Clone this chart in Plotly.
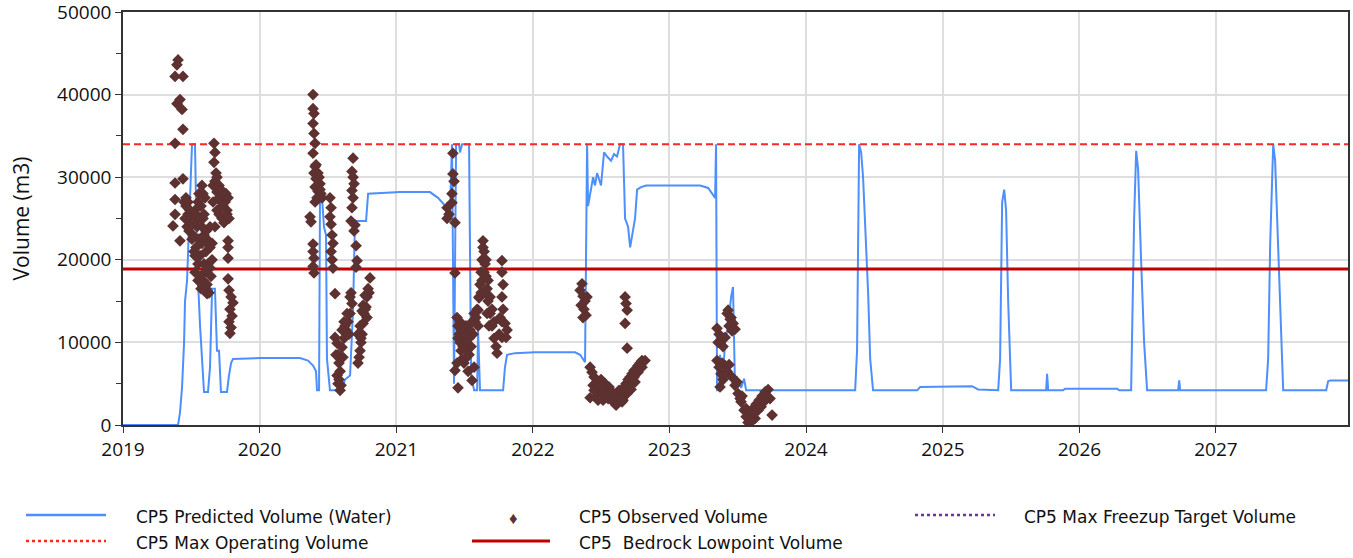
import pandas as pd
import plotly.graph_objects as go

# ---------------- DATA ----------------
# Predicted volume (decimal year, m3)
pred_year = [
    2019.000, 2019.403, 2019.417, 2019.432, 2019.447, 2019.454, 2019.469, 2019.490, 2019.505, 2019.527,
    2019.542, 2019.564, 2019.593, 2019.622, 2019.637, 2019.652, 2019.673, 2019.688, 2019.703, 2019.717,
    2019.761, 2019.776, 2019.791, 2019.805, 2020.003, 2020.296, 2020.354, 2020.391, 2020.413, 2020.420,
    2020.435, 2020.442, 2020.457, 2020.471, 2020.486, 2020.493, 2020.515, 2020.596, 2020.625, 2020.662,
    2020.684, 2020.698, 2020.779, 2020.794, 2021.028, 2021.247, 2021.306, 2021.350, 2021.372, 2021.394,
    2021.408, 2021.423, 2021.438, 2021.460, 2021.467, 2021.482, 2021.533, 2021.548, 2021.570, 2021.592,
    2021.599, 2021.613, 2021.782, 2021.796, 2021.811, 2021.870, 2022.016, 2022.309, 2022.346, 2022.382,
    2022.397, 2022.404, 2022.419, 2022.441, 2022.455, 2022.470, 2022.499, 2022.521, 2022.543, 2022.572,
    2022.594, 2022.616, 2022.638, 2022.660, 2022.675, 2022.697, 2022.712, 2022.726, 2022.748, 2022.763,
    2022.792, 2022.829, 2023.224, 2023.283, 2023.319, 2023.334, 2023.341, 2023.348, 2023.363, 2023.370,
    2023.385, 2023.407, 2023.429, 2023.451, 2023.465, 2023.480, 2023.509, 2023.524, 2023.546, 2023.561,
    2024.359, 2024.373, 2024.388, 2024.403, 2024.417, 2024.439, 2024.454, 2024.469, 2024.490, 2024.813,
    2024.835, 2025.215, 2025.259, 2025.406, 2025.420, 2025.435, 2025.450, 2025.464, 2025.479, 2025.501,
    2025.757, 2025.764, 2025.772, 2025.881, 2025.896, 2026.277, 2026.291, 2026.379, 2026.401, 2026.416,
    2026.430, 2026.452, 2026.474, 2026.496, 2026.723, 2026.731, 2026.738, 2027.367, 2027.382, 2027.397,
    2027.419, 2027.433, 2027.455, 2027.477, 2027.492, 2027.807, 2027.821, 2027.836, 2027.968,
]
pred_volume = [
    0, 0, 1500, 4500, 10000, 15000, 17500, 28000, 34000, 34000,
    20000, 12000, 4000, 4000, 7000, 16500, 16500, 9000, 9000, 4000,
    4000, 6000, 7500, 8000, 8100, 8100, 7800, 7200, 6500, 4200,
    4200, 28000, 27500, 24000, 23000, 8000, 4200, 4200, 5500, 6000,
    14000, 24700, 24700, 28000, 28200, 28200, 27500, 26700, 25500, 26000,
    34000, 5000, 34000, 34000, 33000, 34000, 34000, 6000, 4200, 4200,
    11500, 4200, 4200, 7000, 8500, 8700, 8800, 8800, 8500, 7600,
    34000, 26500, 28000, 30000, 29000, 30500, 29000, 33000, 32500, 32000,
    32800, 32500, 34000, 34000, 25000, 24000, 21500, 23000, 25000, 28500,
    28800, 29000, 29000, 28700, 27800, 27500, 34000, 4200, 4200, 8500,
    4200, 10000, 12000, 15500, 16700, 4200, 5500, 4500, 5600, 4200,
    4200, 9000, 34000, 33000, 30000, 22000, 16000, 8000, 4200, 4200,
    4600, 4700, 4300, 4200, 8000, 27000, 28500, 26000, 15000, 4200,
    4200, 6200, 4200, 4200, 4400, 4400, 4200, 4200, 25000, 33200,
    31000, 20000, 10000, 4200, 4200, 5400, 4200, 4200, 8000, 22000,
    34000, 32000, 22000, 12000, 4200, 4200, 5300, 5400, 5400,
]

# Observed volume (decimal year, m3)
obs_year = [
    # 2019
    2019.403, 2019.395, 2019.381, 2019.439, 2019.417, 2019.395, 2019.432, 2019.439, 2019.381, 2019.381,
    2019.439, 2019.381, 2019.381, 2019.366, 2019.417, 2019.447, 2019.461, 2019.476, 2019.490, 2019.505,
    2019.454, 2019.469, 2019.483, 2019.498, 2019.512, 2019.527, 2019.542, 2019.556, 2019.534, 2019.564,
    2019.578, 2019.593, 2019.608, 2019.622, 2019.600, 2019.586, 2019.571, 2019.615, 2019.637, 2019.652,
    2019.520, 2019.549, 2019.527, 2019.556, 2019.571, 2019.586, 2019.600, 2019.666, 2019.673, 2019.666,
    2019.681, 2019.673, 2019.659, 2019.688, 2019.703, 2019.717, 2019.732, 2019.688, 2019.703, 2019.725,
    2019.739, 2019.754, 2019.769, 2019.761, 2019.776, 2019.659, 2019.673, 2019.769, 2019.769, 2019.769,
    2019.769, 2019.776, 2019.791, 2019.805, 2019.783, 2019.798, 2019.776, 2019.791, 2019.783, 2019.652,
    2019.637, 2019.578, 2019.586, 2019.615, 2019.630, 2019.644, 2019.608, 2019.615,
    2019.461, 2019.476, 2019.490, 2019.505, 2019.520, 2019.534, 2019.549, 2019.564, 2019.578, 2019.593,
    2019.608, 2019.622, 2019.637, 2019.527, 2019.549, 2019.564, 2019.593, 2019.688, 2019.703, 2019.717,
    2019.732, 2019.747, 2019.761, 2019.725,
    # 2020
    2020.391, 2020.391, 2020.398, 2020.391, 2020.398, 2020.406, 2020.391, 2020.406, 2020.398, 2020.413,
    2020.420, 2020.427, 2020.406, 2020.420, 2020.435, 2020.442, 2020.449, 2020.457, 2020.369, 2020.376,
    2020.391, 2020.391, 2020.398, 2020.391, 2020.398, 2020.515, 2020.523, 2020.515, 2020.523, 2020.523,
    2020.530, 2020.537, 2020.552, 2020.552, 2020.567, 2020.574, 2020.581, 2020.589, 2020.581, 2020.596,
    2020.589, 2020.603, 2020.618, 2020.632, 2020.647, 2020.662, 2020.676, 2020.625, 2020.654, 2020.610,
    2020.684, 2020.676, 2020.684, 2020.691, 2020.676, 2020.684, 2020.669, 2020.691, 2020.698, 2020.706,
    2020.713, 2020.706, 2020.669, 2020.676, 2020.808, 2020.794, 2020.786, 2020.779, 2020.764, 2020.757,
    2020.750, 2020.742, 2020.735, 2020.728, 2020.720, 2020.772, 2020.801, 2020.750, 2020.735,
    2020.413, 2020.427, 2020.442, 2020.406, 2020.530, 2020.537, 2020.559, 2020.567, 2020.574, 2020.603,
    2020.618, 2020.640, 2020.662, 2020.757, 2020.772, 2020.786, 2020.720, 2020.742,
    # 2021
    2021.415, 2021.415, 2021.423, 2021.408, 2021.408, 2021.372, 2021.386, 2021.372, 2021.430, 2021.430,
    2021.445, 2021.452, 2021.460, 2021.467, 2021.474, 2021.482, 2021.445, 2021.430, 2021.452, 2021.467,
    2021.489, 2021.504, 2021.518, 2021.533, 2021.548, 2021.562, 2021.577, 2021.592, 2021.606, 2021.511,
    2021.540, 2021.496, 2021.526, 2021.555, 2021.570, 2021.599, 2021.606, 2021.613, 2021.621, 2021.628,
    2021.635, 2021.635, 2021.643, 2021.650, 2021.657, 2021.665, 2021.672, 2021.687, 2021.701, 2021.716,
    2021.731, 2021.738, 2021.643, 2021.650, 2021.665, 2021.679, 2021.774, 2021.774, 2021.782, 2021.774,
    2021.782, 2021.774, 2021.774, 2021.796, 2021.811, 2021.804, 2021.760, 2021.753,
    2021.452, 2021.474, 2021.489, 2021.504, 2021.518, 2021.533, 2021.555, 2021.570, 2021.584, 2021.599,
    2021.621, 2021.628, 2021.657, 2021.672, 2021.687, 2021.701, 2021.716,
    # 2022
    2022.360, 2022.346, 2022.367, 2022.382, 2022.353, 2022.374, 2022.389, 2022.367, 2022.396, 2022.675,
    2022.682, 2022.690, 2022.675, 2022.690, 2022.419, 2022.433, 2022.448, 2022.463, 2022.477, 2022.492,
    2022.507, 2022.521, 2022.536, 2022.551, 2022.565, 2022.580, 2022.594, 2022.609, 2022.624, 2022.638,
    2022.653, 2022.668, 2022.682, 2022.697, 2022.712, 2022.726, 2022.741, 2022.755, 2022.770, 2022.785,
    2022.799, 2022.821, 2022.419, 2022.441, 2022.470, 2022.499, 2022.529, 2022.558, 2022.580, 2022.631,
    2022.660, 2022.690, 2022.719, 2022.748, 2022.616, 2022.514,
    2022.448, 2022.477, 2022.507, 2022.536, 2022.565, 2022.594, 2022.653, 2022.682, 2022.712, 2022.741,
    2022.770, 2022.799,
    # 2023
    2023.429, 2023.451, 2023.466, 2023.480, 2023.436, 2023.458, 2023.348, 2023.363, 2023.377, 2023.392,
    2023.407, 2023.356, 2023.348, 2023.363, 2023.377, 2023.392, 2023.370, 2023.407, 2023.422, 2023.436,
    2023.458, 2023.480, 2023.502, 2023.524, 2023.546, 2023.561, 2023.575, 2023.590, 2023.495, 2023.531,
    2023.590, 2023.612, 2023.634, 2023.656, 2023.678, 2023.700, 2023.722, 2023.736, 2023.751, 2023.627,
    2023.649, 2023.671, 2023.692, 2023.605,
    2023.422, 2023.444, 2023.400, 2023.385, 2023.517, 2023.561, 2023.583, 2023.620, 2023.663, 2023.707,
]
obs_volume = [
    # 2019
    44200, 43600, 42200, 42200, 39400, 38900, 38200, 35800, 34100, 29300,
    29800, 27300, 25500, 24100, 22300, 27000, 26500, 27000, 26000, 25500,
    25000, 24000, 23500, 24500, 23000, 26000, 24000, 22500, 21500, 20500,
    22000, 23000, 21000, 19500, 18500, 17500, 16500, 22500, 21500, 20000,
    21000, 19500, 20500, 28000, 26500, 25000, 27500, 34100, 33000, 31800,
    30500, 29500, 29000, 28200, 27500, 27000, 26500, 26000, 25500, 25000,
    24500, 28000, 27500, 26000, 25000, 27000, 24000, 22300, 21500, 20200,
    17700, 16300, 15500, 14800, 14000, 13200, 12500, 11800, 11100, 22000,
    24000, 29000, 28000, 17000, 16000, 18000, 16500, 15900,
    27500, 25500, 24000, 22500, 24500, 25500, 27000, 25000, 24000, 25500,
    23500, 22000, 19000, 18500, 17500, 18000, 19500, 30000, 29000, 28500,
    28000, 27000, 25500, 26500,
    # 2020
    40000, 38300, 37700, 36500, 35300, 34100, 32900, 31300, 30500, 29800,
    29000, 28300, 28800, 27500, 30000, 29200, 28000, 27500, 25200, 24600,
    21900, 21000, 20200, 19200, 18400, 27500, 26300, 25200, 24300, 21000,
    20000, 19000, 15900, 10600, 9900, 8500, 7500, 6500, 5500, 4800,
    4200, 9400, 10500, 11500, 12500, 13500, 14700, 12000, 11000, 8200,
    32300, 30700, 30000, 29200, 28400, 27500, 24700, 23500, 24200, 21700,
    19900, 19100, 16000, 26300, 17800, 16500, 15500, 14300, 13500, 12300,
    11000, 10000, 9000, 8200, 7500, 15700, 16000, 13800, 12000,
    31500, 30500, 28500, 27000, 23000, 22000, 8500, 6000, 5000, 11500,
    12500, 13500, 15500, 14500, 14000, 13000, 11000, 10500,
    # 2021
    32900, 30400, 29500, 28000, 26900, 26300, 25500, 25000, 24500, 18400,
    13000, 12000, 11000, 10000, 9000, 8000, 7500, 6600, 4500, 12500,
    11000, 10000, 9000, 8500, 9500, 11000, 12500, 14000, 15400, 12000,
    11500, 7500, 6500, 5400, 7000, 13900, 15500, 17000, 18500, 20000,
    21500, 22300, 21000, 19500, 18000, 16500, 15000, 13500, 12000, 10500,
    9500, 8700, 18500, 16000, 13500, 12000, 19900, 18500, 17000, 15500,
    14000, 12500, 10600, 12300, 11500, 10600, 13000, 11000,
    10500, 11500, 9500, 8000, 11000, 10500, 12500, 13500, 13000, 12000,
    16000, 17500, 20000, 17500, 15500, 14000, 12500,
    # 2022
    17100, 16300, 15600, 15000, 14500, 14000, 13300, 13000, 15500, 15500,
    14700, 13900, 12300, 9300, 7000, 6400, 5800, 5100, 4500, 4200,
    3800, 4500, 3600, 3200, 3500, 3000, 2700, 2400, 2800, 3500,
    4000, 4600, 5000, 5500, 5800, 6200, 6600, 6800, 7200, 7500,
    7800, 7800, 3300, 4800, 3500, 5500, 5000, 4600, 4000, 4200,
    3000, 3800, 4300, 5200, 3500, 3000,
    4200, 3000, 4800, 4200, 3800, 3500, 2800, 4200, 4800, 5800,
    6400, 7000,
    # 2023
    13900, 13000, 12300, 11600, 12000, 11400, 11700, 11000, 10200, 9500,
    10600, 10000, 7800, 7000, 6200, 5500, 4600, 7200, 6500, 7300,
    5800, 4800, 3800, 2800, 1800, 1000, 300, 500, 5200, 3500,
    1500, 2000, 2500, 3000, 3500, 4000, 4300, 3200, 1200, 800,
    1800, 2200, 2800, 500,
    13500, 12800, 6000, 7500, 3200, 2000, 1300, 1500, 2600, 3600,
]

max_operating_volume = 34000
bedrock_lowpoint_volume = 18900
x_range = ["2019-01-01", "2027-12-20"]
y_range = [0, 50000]

series_names = [
    "CP5 Predicted Volume (Water)",
    "CP5 Observed Volume",
    "CP5 Max Freezup Target Volume",
    "CP5 Max Operating Volume",
    "CP5  Bedrock Lowpoint Volume",
]

# ---------------- HELPERS ----------------
def to_dates(years):
    base = pd.Timestamp("2019-01-01")
    return [base + pd.to_timedelta((y - 2019.0) * 365.25, unit="D") for y in years]

BLUE = "#4d8ffc"
BROWN = "#5e3131"
RED_DASH = "#ff2626"
DARK_RED = "#c00000"
PURPLE = "#7030a0"

fig = go.Figure()

fig.add_trace(go.Scatter(
    x=to_dates(pred_year), y=pred_volume, mode="lines", name=series_names[0],
    line=dict(color=BLUE, width=2), showlegend=False,
))
fig.add_trace(go.Scatter(
    x=x_range, y=[max_operating_volume] * 2, mode="lines", name=series_names[3],
    line=dict(color=RED_DASH, width=2, dash="7px,4px"), showlegend=False,
))
fig.add_trace(go.Scatter(
    x=x_range, y=[bedrock_lowpoint_volume] * 2, mode="lines", name=series_names[4],
    line=dict(color=DARK_RED, width=3), showlegend=False,
))
fig.add_trace(go.Scatter(
    x=to_dates(obs_year), y=obs_volume, mode="markers", name=series_names[1],
    marker=dict(symbol="diamond", size=9, color=BROWN), showlegend=False,
))
fig.add_trace(go.Scatter(
    x=[None], y=[None], mode="lines", name=series_names[2],
    line=dict(color=PURPLE, width=2, dash="dashdot"), showlegend=False,
))

AX_FONT = dict(family="Open Sans, Liberation Sans, sans-serif", size=19, color="#111111")
GRID = "#dedede"

fig.update_layout(
    width=1353, height=558,
    margin=dict(l=123, r=5, t=12, b=133, autoexpand=False),
    paper_bgcolor="white", plot_bgcolor="white",
    showlegend=False,
    xaxis=dict(
        type="date", range=x_range, dtick="M12", tick0="2019-01-01", tickformat="%Y",
        showgrid=True, gridcolor=GRID, gridwidth=1.5, automargin=False,
        showline=True, linecolor="#333333", linewidth=1.5, mirror=True,
        ticks="outside", ticklen=6, tickcolor="#333333",
        tickfont=AX_FONT, zeroline=False, ticklabeloverflow="allow",
    ),
    yaxis=dict(
        range=y_range, dtick=10000, tick0=0, tickformat="d",
        showgrid=True, gridcolor=GRID, gridwidth=1.5, automargin=False,
        showline=True, linecolor="#333333", linewidth=1.5, mirror=True,
        ticks="outside", ticklen=6, tickcolor="#333333",
        minor=dict(dtick=5000, ticks="outside", ticklen=5, tickcolor="#333333", showgrid=False),
        tickfont=AX_FONT, zeroline=False, ticklabeloverflow="allow",
        title=dict(text="Volume (m3)", font=dict(family="Open Sans, Liberation Sans, sans-serif", size=21, color="#111111"), standoff=22),
    ),
)

# ---------------- manual legend ----------------
LEG_FONT = dict(family="DejaVu Sans, Liberation Sans, sans-serif", size=17, color="#111111")
pw, ph = 1225.0, 413.0  # plot area size in px
def px_x(p):
    return (p - 123) / pw
def px_y(p):
    return (425 - p) / ph

row1, row2 = 517, 543
legend_items = [
    # (name index, kind, sample x0, sample x1, text x, row)
    (0, "line", 26, 106, 134, row1),
    (1, "marker", 513, 513, 577, row1),
    (2, "dashdot", 915, 995, 1022, row1),
    (3, "dash", 26, 106, 134, row2),
    (4, "thick", 472, 550, 577, row2),
]
styles = {
    "line": dict(color=BLUE, width=2.5),
    "dashdot": dict(color=PURPLE, width=2.5, dash="dot"),
    "dash": dict(color=RED_DASH, width=2.5, dash="dot"),
    "thick": dict(color=DARK_RED, width=3),
}
for idx, kind, x0, x1, tx, row in legend_items:
    if kind == "marker":
        fig.add_annotation(xref="paper", yref="paper", x=px_x(x0), y=px_y(row), text="\u2666",
                           showarrow=False, font=dict(size=17, color=BROWN), xanchor="center", yanchor="middle")
    else:
        fig.add_shape(type="line", xref="paper", yref="paper", x0=px_x(x0), x1=px_x(x1),
                      y0=px_y(row - 2), y1=px_y(row - 2), line=styles[kind])
    fig.add_annotation(xref="paper", yref="paper", x=px_x(tx), y=px_y(row), text=series_names[idx],
                       showarrow=False, font=LEG_FONT, xanchor="left", yanchor="middle")

# the page is opened at exactly the figure size: drop the default body margin
fig.write_html("out.html", config={"displayModeBar": False},
               post_script="document.body.style.margin='0';")
